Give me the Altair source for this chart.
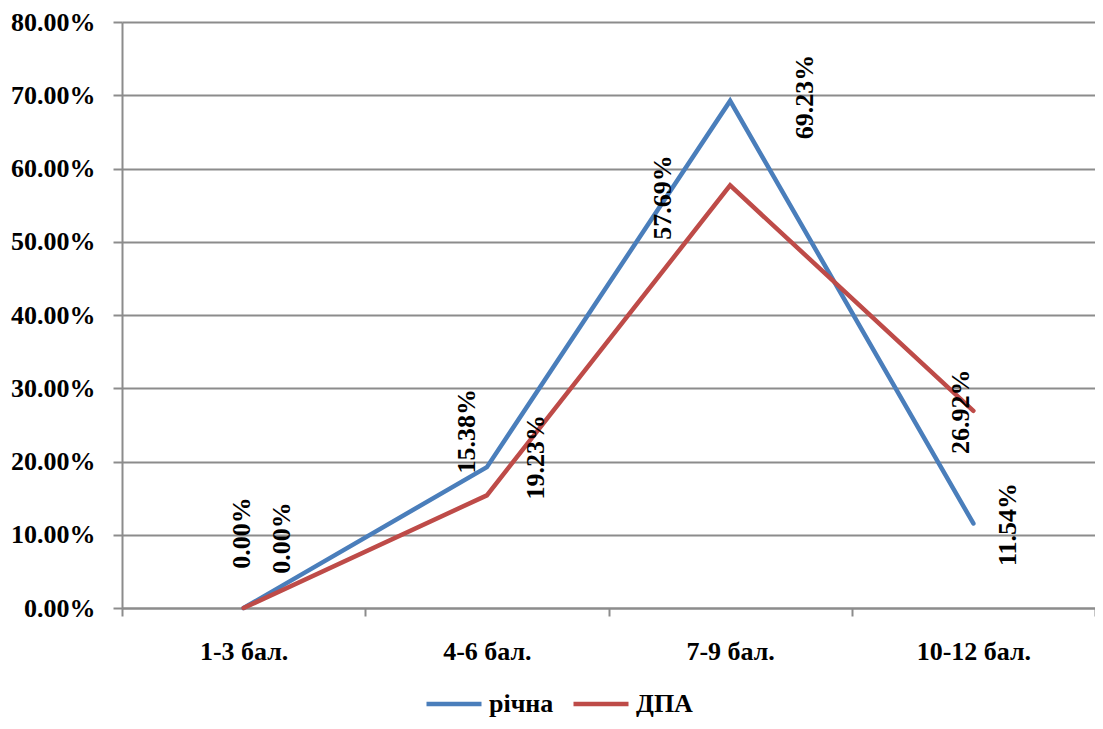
import altair as alt
import pandas as pd

categories = ["1-3 бал.", "4-6 бал.", "7-9 бал.", "10-12 бал."]
series_names = ["річна", "ДПА"]
richna = [0.0, 0.1923, 0.6923, 0.1154]
dpa = [0.0, 0.1538, 0.5769, 0.2692]
y_ticks = [0.0, 0.1, 0.2, 0.3, 0.4, 0.5, 0.6, 0.7, 0.8]

colors = ["#4A7EBB", "#BE4B48"]
FONT = "Liberation Serif"
FS = 26

# label placement offsets in screen pixels (right, down) per series and category
label_offsets = {
    "річна": [(-2, -75), (49, -10), (75, -4), (35, 1)],
    "ДПА": [(38, -70), (-20, -64), (-67, 12), (-12, 1)],
}

rows = []
for name, vals in zip(series_names, [richna, dpa]):
    for c, v in zip(categories, vals):
        rows.append({"cat": c, "series": name, "value": v})
df = pd.DataFrame(rows)

x_enc = alt.X(
    "cat:N",
    sort=categories,
    bandPosition=0.5,
    scale=alt.Scale(type="band", domain=categories, paddingInner=0, paddingOuter=0),
    axis=alt.Axis(
        title=None, labelAngle=0, tickBand="extent", grid=False,
        domainColor="#8c8c8c", domainWidth=2, tickColor="#8c8c8c", tickWidth=2,
        tickSize=8, labelPadding=22, labelFont=FONT, labelFontSize=FS,
        labelFontWeight="bold", labelColor="black",
    ),
)
y_enc = alt.Y(
    "value:Q",
    scale=alt.Scale(domain=[0, 0.8], nice=False),
    axis=alt.Axis(
        title=None, format=".2%", values=y_ticks, grid=True,
        gridColor="#8c8c8c", gridWidth=2, domainColor="#8c8c8c", domainWidth=2,
        tickColor="#8c8c8c", tickWidth=2, tickSize=9, labelPadding=18,
        labelFont=FONT, labelFontSize=FS, labelFontWeight="bold", labelColor="black",
    ),
)
color_enc = alt.Color(
    "series:N",
    sort=series_names,
    scale=alt.Scale(domain=series_names, range=colors),
    legend=alt.Legend(
        title=None, orient="none", legendX=302, legendY=652, direction="horizontal",
        symbolType="stroke", symbolSize=3025, symbolStrokeWidth=4.5,
        labelFont=FONT, labelFontSize=FS, labelFontWeight="bold", labelColor="black",
        columnPadding=10, labelOffset=5,
    ),
)

lines = alt.Chart(df).mark_line(strokeWidth=4.5, strokeCap="round").encode(
    x=x_enc, y=y_enc, color=color_enc
)

layers = [lines]
for name in series_names:
    for i, c in enumerate(categories):
        sx, sy = label_offsets[name][i]
        sub = df[(df.series == name) & (df.cat == c)]
        t = alt.Chart(sub).mark_text(
            angle=270, align="center", baseline="middle",
            dx=-sy, dy=sx, font=FONT, fontSize=FS, fontWeight="bold", color="black",
        ).encode(x=x_enc, y=y_enc, text=alt.Text("value:Q", format=".2%"))
        layers.append(t)

chart = alt.layer(*layers).properties(
    width=973, height=586,
    autosize=alt.AutoSizeParams(type="none"),
    padding={"left": 114, "top": 14, "right": 0, "bottom": 113},
).configure_view(stroke=None)

chart.save("out.html", embed_options={"renderer": "svg", "actions": False})
